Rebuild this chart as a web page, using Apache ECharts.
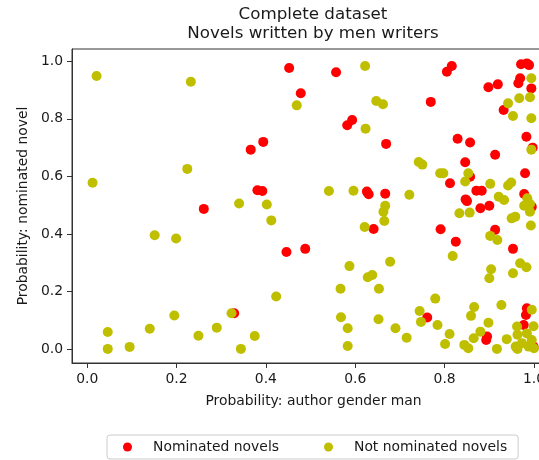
<!DOCTYPE html>
<html>
<head>
<meta charset="utf-8">
<script src="https://cdn.jsdelivr.net/npm/echarts@6/dist/echarts.min.js"></script>
<style>
html,body{margin:0;padding:0;background:#fff;}
#chart{width:539px;height:460px;}
</style>
</head>
<body>
<div id="chart"></div>
<script>
const titleLines = ["Complete dataset", "Novels written by men writers"];
const xName = "Probability: author gender man";
const yName = "Probability: nominated novel";
const seriesNames = ["Nominated novels", "Not nominated novels"];
const xTicks = [0, 0.2, 0.4, 0.6, 0.8, 1.0];
const yTicks = [0, 0.2, 0.4, 0.6, 0.8, 1.0];

const nomX = [0.452,0.478,0.366,0.394,0.381,0.392,0.261,0.446,0.488,0.329,
  0.557,0.769,0.593,0.582,0.669,0.626,0.630,0.667,0.641,0.791,
  0.761,0.816,0.805,0.898,0.919,0.971,0.984,0.989,0.969,0.965,
  0.994,0.932,0.829,0.857,0.983,0.913,0.997,0.846,0.980,0.857,
  0.812,0.871,0.883,0.847,0.850,0.880,0.900,0.978,0.995,0.913,
  0.825,0.953,0.984,0.982,0.977,0.895,0.893,0.999];
const nomY = [0.977,0.889,0.693,0.720,0.552,0.549,0.487,0.337,0.348,0.124,
  0.962,0.859,0.796,0.778,0.713,0.547,0.538,0.540,0.417,0.416,
  0.109,0.984,0.964,0.910,0.920,0.990,0.993,0.987,0.941,0.924,
  0.906,0.831,0.731,0.718,0.738,0.675,0.700,0.649,0.611,0.599,
  0.576,0.550,0.550,0.520,0.514,0.489,0.498,0.539,0.494,0.414,
  0.373,0.348,0.141,0.118,0.083,0.043,0.031,0.008];

const notX = [0.021,0.232,0.469,0.224,0.012,0.340,0.402,0.412,0.151,0.199,
  0.423,0.195,0.323,0.046,0.140,0.249,0.290,0.375,0.046,0.095,
  0.344,0.622,0.647,0.662,0.623,0.742,0.750,0.790,0.541,0.596,
  0.721,0.667,0.663,0.665,0.621,0.587,0.678,0.628,0.638,0.567,
  0.653,0.779,0.568,0.652,0.744,0.747,0.784,0.583,0.690,0.715,
  0.583,0.994,0.967,0.991,0.942,0.953,0.994,0.994,0.797,0.853,
  0.846,0.902,0.949,0.942,0.921,0.933,0.985,0.991,0.978,0.991,
  0.833,0.856,0.950,0.958,0.993,0.902,0.918,0.818,0.969,0.983,
  0.904,0.900,0.953,0.927,0.866,0.859,0.995,0.898,0.962,0.999,
  0.984,0.963,0.880,0.865,0.844,0.853,0.917,0.939,0.959,0.963,
  0.973,0.988,0.995,1.000,0.811,0.801];
const notY = [0.949,0.929,0.847,0.626,0.578,0.506,0.502,0.447,0.395,0.384,
  0.182,0.116,0.124,0.059,0.070,0.046,0.074,0.045,0.000,0.007,
  0.000,0.984,0.862,0.851,0.766,0.650,0.641,0.611,0.549,0.550,
  0.536,0.498,0.477,0.445,0.424,0.288,0.303,0.249,0.257,0.209,
  0.209,0.175,0.110,0.103,0.132,0.094,0.083,0.072,0.072,0.039,
  0.010,0.941,0.872,0.875,0.854,0.810,0.802,0.693,0.611,0.611,
  0.582,0.574,0.579,0.568,0.529,0.518,0.524,0.504,0.498,0.477,
  0.472,0.474,0.454,0.460,0.429,0.393,0.379,0.323,0.298,0.284,
  0.277,0.246,0.263,0.153,0.146,0.115,0.136,0.091,0.078,0.079,
  0.054,0.049,0.060,0.037,0.014,0.002,0.000,0.034,0.008,0.000,
  0.020,0.008,0.031,0.002,0.052,0.017];

const zip = (xs, ys) => xs.map((x, i) => [x, ys[i]]);
const FONT = "DejaVu Sans";
const TXT = "#1a1a1a";

const chart = echarts.init(document.getElementById('chart'), null, {renderer: 'canvas'});
chart.setOption({
  animation: false,
  backgroundColor: '#fff',
  textStyle: {fontFamily: FONT},
  title: {
    text: titleLines.join('\n'),
    left: 313, top: 5, padding: 0,
    textAlign: 'center',
    textStyle: {fontFamily: FONT, fontSize: 16.7, fontWeight: 'normal', color: TXT, lineHeight: 19}
  },
  grid: {
    left: 72, top: 49, width: 483, height: 314,
    show: true, borderColor: '#333', borderWidth: 1, backgroundColor: 'transparent',
    containLabel: false, outerBoundsMode: 'none'
  },
  xAxis: {
    type: 'value', min: -0.034, max: 1.047,
    name: xName, nameLocation: 'middle', nameGap: 31,
    nameTextStyle: {fontFamily: FONT, fontSize: 13.9, color: TXT},
    axisLine: {show: true, onZero: false, lineStyle: {color: '#333', width: 1}},
    axisTick: {show: true, length: 5, customValues: xTicks, lineStyle: {color: '#333'}},
    axisLabel: {customValues: xTicks, margin: 9, fontFamily: FONT, fontSize: 13.9, color: TXT,
      formatter: v => v.toFixed(1), showMinLabel: true, showMaxLabel: true},
    splitLine: {show: false}
  },
  yAxis: {
    type: 'value', min: -0.049, max: 1.043,
    name: yName, nameLocation: 'middle', nameGap: 35, nameRotate: 90,
    nameTextStyle: {fontFamily: FONT, fontSize: 13.9, color: TXT},
    axisLine: {show: true, onZero: false, lineStyle: {color: '#333', width: 1}},
    axisTick: {show: true, length: 5, customValues: yTicks, lineStyle: {color: '#333'}},
    axisLabel: {customValues: yTicks, margin: 9, fontFamily: FONT, fontSize: 13.9, color: TXT,
      formatter: v => v.toFixed(1), showMinLabel: true, showMaxLabel: true},
    splitLine: {show: false}
  },
  legend: {
    left: 107, top: 435,
    orient: 'horizontal',
    itemWidth: 9, itemHeight: 9, itemGap: 45,
    padding: [5, 11, 5, 16],
    borderColor: '#cccccc', borderWidth: 1, borderRadius: 3,
    icon: 'circle',
    textStyle: {fontFamily: FONT, fontSize: 13.9, color: TXT, padding: [0, 0, 0, 16]},
    data: seriesNames
  },
  series: [
    {name: seriesNames[0], type: 'scatter', symbolSize: 10, data: zip(nomX, nomY),
      itemStyle: {color: '#ff0000', opacity: 1}, emphasis: {disabled: true}},
    {name: seriesNames[1], type: 'scatter', symbolSize: 10, data: zip(notX, notY),
      itemStyle: {color: '#bfbf00', opacity: 1}, emphasis: {disabled: true}}
  ]
});
</script>
</body>
</html>
